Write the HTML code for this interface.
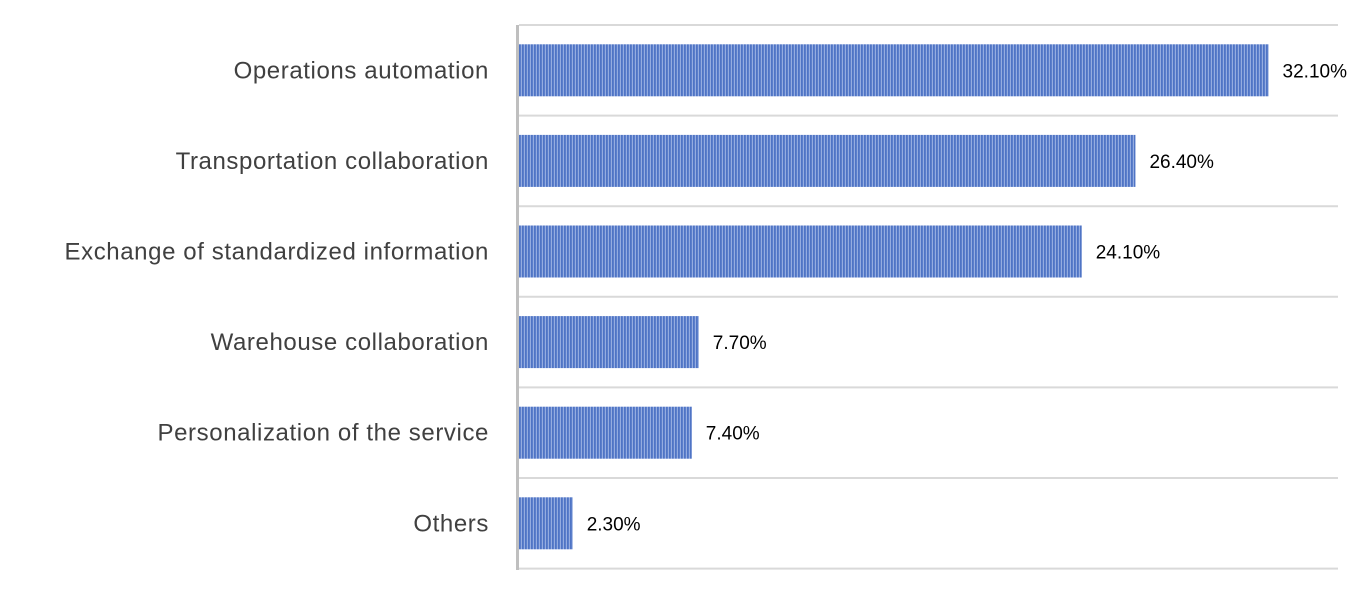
<!DOCTYPE html>
<html><head><meta charset="utf-8"><style>
body{margin:0;width:1362px;height:590px;background:#fff;overflow:hidden;font-family:"Liberation Sans",sans-serif}
</style></head><body>
<svg id="chart" width="1362" height="590" xmlns="http://www.w3.org/2000/svg">
<defs>
<linearGradient id="stripe" x1="0" x2="1" y1="0" y2="0">
<stop offset="0" stop-color="#4a6fc2"/><stop offset="0.55" stop-color="#5b7ecb"/><stop offset="1" stop-color="#b7c8ec"/>
</linearGradient>
<pattern id="pat" patternUnits="userSpaceOnUse" width="3" height="10"><rect width="3" height="10" fill="url(#stripe)"/></pattern>
</defs>
<g id="grid"></g><g id="bars"></g><g id="labels"></g>
<rect x="516" y="25" width="3" height="545" fill="#bfbfbf"/>
</svg>
<script>
const categories=["Operations automation","Transportation collaboration","Exchange of standardized information","Warehouse collaboration","Personalization of the service","Others"];
const values=[32.1,26.4,24.1,7.7,7.4,2.3];
const valueLabels=["32.10%","26.40%","24.10%","7.70%","7.40%","2.30%"];
const NS="http://www.w3.org/2000/svg";
const x0=519,pxPer=23.35,top0=25,band=90.6,barH=52;
const xs=v=>x0+v*pxPer;
const yb=i=>top0+i*band;
function mk(t,a,p){const e=document.createElementNS(NS,t);for(const k in a)e.setAttribute(k,a[k]);document.getElementById(p).appendChild(e);return e;}
for(let i=0;i<=categories.length;i++){
  const g=mk("line",{x1:519,x2:1338,y1:yb(i),y2:yb(i),stroke:"#d9d9d9","stroke-width":2},"grid");
  
  
}
categories.forEach((c,i)=>{
  const y=yb(i)+(band-barH)/2;
  const r=mk("rect",{x:x0,y:y,width:xs(values[i])-x0,height:barH,fill:"url(#pat)"},"bars");
  
  
  const t=mk("text",{x:489,y:yb(i)+band/2+8,"text-anchor":"end","font-size":"24",fill:"#404040","letter-spacing":"0.6"},"labels");
  t.textContent=c;
  
  
  const v=mk("text",{x:xs(values[i])+14,y:yb(i)+band/2+7,"font-size":"19",fill:"#000"},"labels");
  v.textContent=valueLabels[i];
  
  
});
</script>
</body></html>
